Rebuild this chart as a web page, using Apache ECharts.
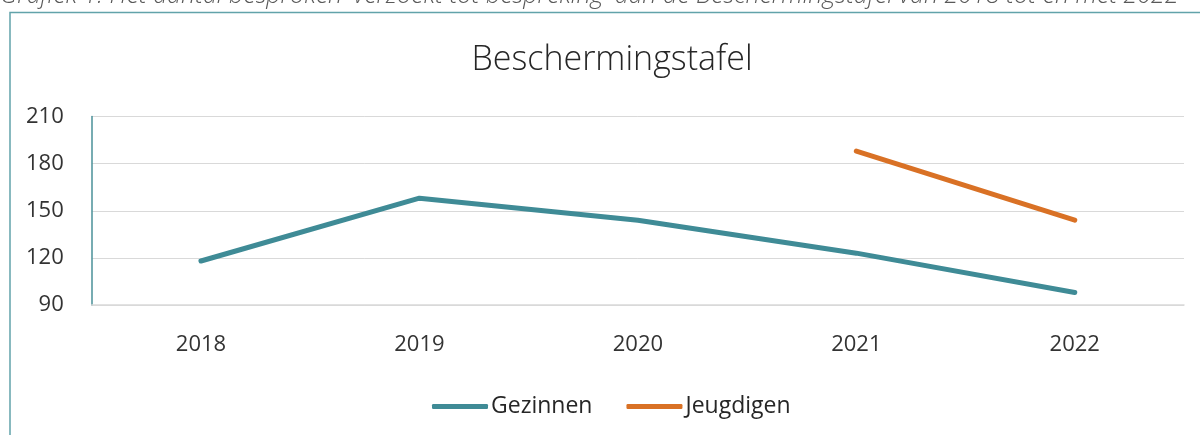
<!DOCTYPE html>
<html>
<head>
<meta charset="utf-8">
<script src="https://cdn.jsdelivr.net/npm/echarts@6/dist/echarts.min.js"></script>
<style>
html,body{margin:0;padding:0;background:#fff;}
#chart{width:1200px;height:435px;}
</style>
</head>
<body>
<div id="chart"></div>
<script>
const categories = ['2018', '2019', '2020', '2021', '2022'];
const gezinnen = [118, 158, 144, 123, 98];
const jeugdigen = [null, null, null, 188, 144];
const yTicks = { min: 90, max: 210, interval: 30 };
const chartTitle = 'Beschermingstafel';
const caption = "Grafiek 1: Het aantal besproken 'verzoekt tot bespreking' aan de Beschermingstafel van 2018 tot en met 2022";

const FONT = '"Open Sans", "Noto Sans", sans-serif';
const chart = echarts.init(document.getElementById('chart'), null, { renderer: 'canvas' });
chart.setOption({
  backgroundColor: '#ffffff',
  animation: false,
  graphic: [
    {
      type: 'rect', silent: true, z: -10,
      shape: { x: 10, y: 12.5, width: 1400, height: 1000 },
      style: { fill: 'none', stroke: '#62a3aa', lineWidth: 1.5 }
    },
    {
      type: 'text', silent: true,
      style: {
        text: caption, x: 0, y: -4, align: 'left', verticalAlign: 'middle',
        font: 'italic 300 25px ' + FONT, fill: '#595959'
      }
    },
    {
      type: 'text', silent: true,
      style: {
        text: chartTitle, x: 612, y: 60, align: 'center', verticalAlign: 'middle',
        font: '300 34px ' + FONT, fill: '#262626'
      }
    }
  ],
  legend: {
    data: ['Gezinnen', 'Jeugdigen'],
    left: 427,
    top: 390,
    icon: 'roundRect',
    itemWidth: 56,
    itemHeight: 5,
    itemGap: 34,
    textStyle: { fontFamily: FONT, fontSize: 23, color: '#262626', padding: [0, 0, 0, -2] }
  },
  grid: { left: 91.75, right: 16, top: 116.5, bottom: 130, containLabel: false },
  xAxis: {
    type: 'category',
    data: categories,
    boundaryGap: true,
    axisLine: { show: true, lineStyle: { color: '#d9d9d9', width: 1.5 } },
    axisTick: { show: false },
    axisLabel: { fontFamily: FONT, fontSize: 22, color: '#333333', margin: 29 }
  },
  yAxis: {
    type: 'value',
    min: yTicks.min, max: yTicks.max, interval: yTicks.interval,
    axisLine: { show: true, lineStyle: { color: '#4a9099', width: 1.5 } },
    axisTick: { show: false },
    splitLine: { show: true, lineStyle: { color: '#d9d9d9', width: 1 } },
    axisLabel: { fontFamily: FONT, fontSize: 22, color: '#333333', margin: 28 }
  },
  series: [
    {
      name: 'Gezinnen', type: 'line', data: gezinnen,
      symbol: 'none', showSymbol: false,
      lineStyle: { color: '#3f8b96', width: 5, cap: 'round', join: 'round' },
      itemStyle: { color: '#3f8b96' }
    },
    {
      name: 'Jeugdigen', type: 'line', data: jeugdigen,
      symbol: 'none', showSymbol: false, connectNulls: false,
      lineStyle: { color: '#d97125', width: 5, cap: 'round', join: 'round' },
      itemStyle: { color: '#d97125' }
    }
  ]
});
</script>
</body>
</html>
